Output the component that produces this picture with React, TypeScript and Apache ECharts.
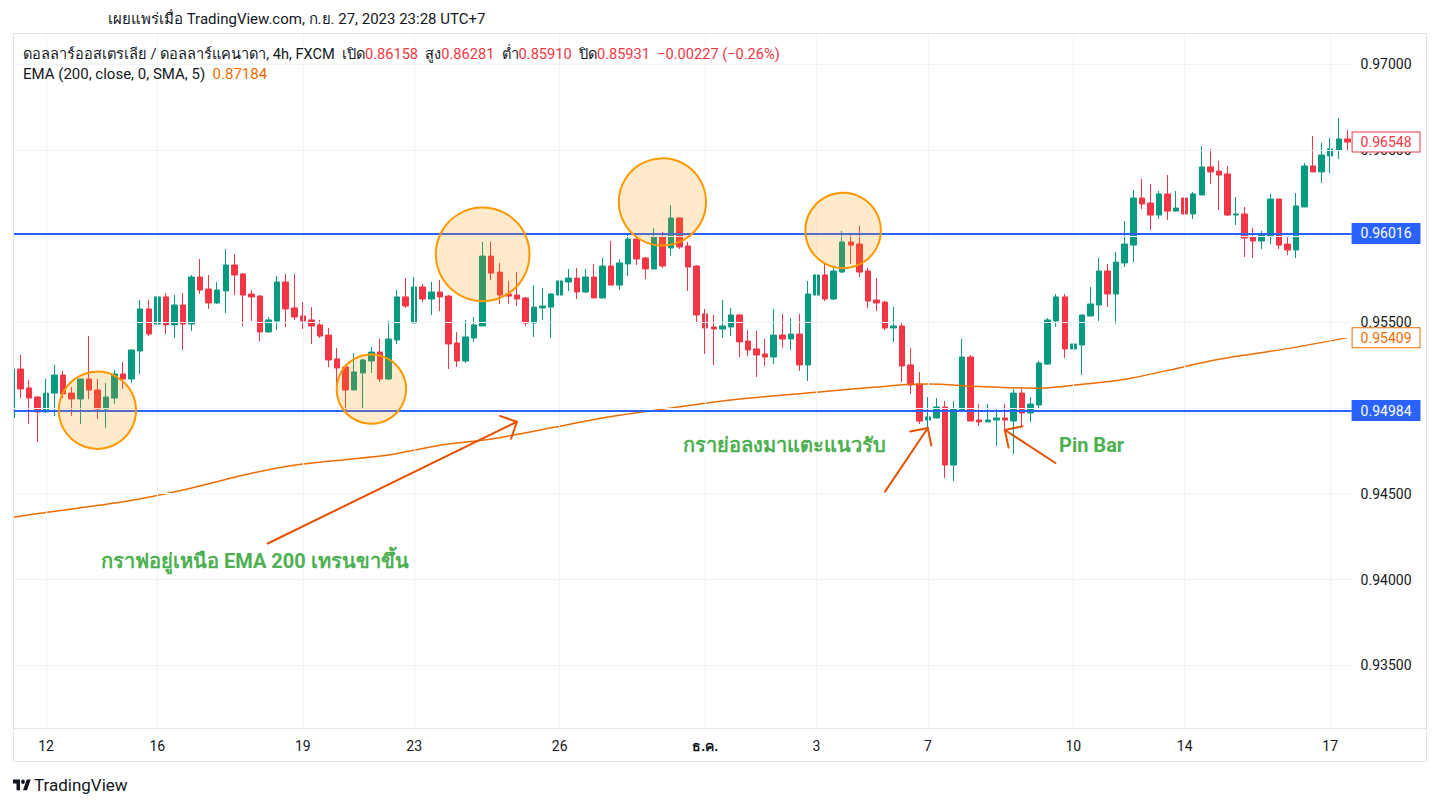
import React, { useEffect, useRef } from "react";
import * as echarts from "echarts";

// ---- tick labels ----
const tickIdx = [4, 17, 34, 47, 64, 81, 94, 107, 124, 137, 154];
const tickText = ["12", "16", "19", "23", "26", "ธ.ค.", "3", "7", "10", "14", "17"];
const priceTicks = [0.935, 0.94, 0.945, 0.95, 0.955, 0.96, 0.965, 0.97];
// tick labels that the level boxes cover completely
const hiddenTickLabels = [0.95, 0.96];

// ---- candles: [open, close, low, high] ----
const candles: number[][] = [
  [0.94941, 0.95226, 0.94923, 0.95244], [0.95226, 0.9511, 0.95057, 0.95308], [0.95116, 0.95057, 0.94906, 0.95162],
  [0.95063, 0.94976, 0.94801, 0.95069], [0.94976, 0.95086, 0.9497, 0.95168], [0.95086, 0.95191, 0.94953, 0.9525],
  [0.95191, 0.95081, 0.95057, 0.95215], [0.95086, 0.95052, 0.94953, 0.95121], [0.95052, 0.95168, 0.94906, 0.95168],
  [0.95168, 0.95104, 0.95052, 0.95418], [0.95104, 0.94993, 0.94935, 0.95168], [0.94993, 0.95063, 0.94883, 0.95145],
  [0.95057, 0.95197, 0.95022, 0.9522], [0.95197, 0.95168, 0.9511, 0.95267], [0.95168, 0.95337, 0.95145, 0.95337],
  [0.95331, 0.95576, 0.95197, 0.95628], [0.95576, 0.9543, 0.95418, 0.95628], [0.95488, 0.95646, 0.95384, 0.95715],
  [0.95646, 0.95483, 0.9543, 0.95669], [0.95483, 0.95599, 0.95407, 0.95657], [0.95599, 0.95488, 0.95337, 0.95669],
  [0.95488, 0.95762, 0.95448, 0.95774], [0.95762, 0.95686, 0.95663, 0.95867], [0.95692, 0.95611, 0.95576, 0.95774],
  [0.95611, 0.95686, 0.95605, 0.95733], [0.95681, 0.95832, 0.95552, 0.95925], [0.95832, 0.95774, 0.95657, 0.95896],
  [0.9578, 0.95657, 0.95477, 0.95785], [0.95663, 0.95646, 0.95506, 0.95686], [0.95651, 0.95442, 0.95389, 0.95657],
  [0.95442, 0.95512, 0.95442, 0.95529], [0.95506, 0.95733, 0.95453, 0.95768], [0.95733, 0.95576, 0.95471, 0.9578],
  [0.95582, 0.95529, 0.95512, 0.9578], [0.95535, 0.95506, 0.95459, 0.95616], [0.95512, 0.95477, 0.95372, 0.95587],
  [0.95483, 0.95418, 0.95407, 0.95512], [0.95424, 0.95279, 0.95238, 0.95465], [0.95285, 0.95232, 0.95133, 0.95349],
  [0.95238, 0.95104, 0.94987, 0.95255], [0.95104, 0.95209, 0.95104, 0.95319], [0.95203, 0.95279, 0.94999, 0.95285],
  [0.95273, 0.95325, 0.95203, 0.95354], [0.95325, 0.95168, 0.95151, 0.95401], [0.95168, 0.95401, 0.95162, 0.95506],
  [0.95395, 0.95646, 0.95372, 0.95686], [0.95646, 0.95593, 0.95582, 0.95756], [0.95494, 0.95704, 0.95494, 0.95762],
  [0.95704, 0.95634, 0.95616, 0.95721], [0.95634, 0.95675, 0.95541, 0.95733], [0.95675, 0.95646, 0.95564, 0.95745],
  [0.95651, 0.95372, 0.95226, 0.95657], [0.95378, 0.95273, 0.95238, 0.95442], [0.95273, 0.95413, 0.95261, 0.95512],
  [0.95407, 0.95483, 0.95384, 0.95529], [0.95477, 0.95884, 0.95477, 0.95966], [0.95884, 0.95785, 0.95745, 0.95966],
  [0.95791, 0.95657, 0.95605, 0.95844], [0.95663, 0.95651, 0.95605, 0.95739], [0.95657, 0.95634, 0.95593, 0.95791],
  [0.9564, 0.95494, 0.95477, 0.95646], [0.95494, 0.95587, 0.95413, 0.95715], [0.95582, 0.95593, 0.95512, 0.95698],
  [0.95587, 0.95663, 0.95407, 0.95669], [0.95657, 0.95739, 0.95651, 0.9582], [0.95733, 0.95756, 0.95681, 0.95809],
  [0.95756, 0.95675, 0.95634, 0.95815], [0.95675, 0.95762, 0.95669, 0.95809], [0.95762, 0.9564, 0.9564, 0.95838],
  [0.9564, 0.95826, 0.9564, 0.95873], [0.95826, 0.95715, 0.95715, 0.95972], [0.95715, 0.95844, 0.95686, 0.95867],
  [0.95838, 0.95983, 0.95768, 0.96007], [0.95983, 0.95867, 0.95832, 0.96001], [0.95873, 0.95809, 0.9575, 0.95879],
  [0.95809, 0.95995, 0.95809, 0.96047], [0.95995, 0.95826, 0.95815, 0.96024], [0.95931, 0.96106, 0.95884, 0.96181],
  [0.96106, 0.95937, 0.95925, 0.96112], [0.95943, 0.9582, 0.95681, 0.95966], [0.95826, 0.95541, 0.955, 0.95832],
  [0.95547, 0.95465, 0.95314, 0.95576], [0.95471, 0.95459, 0.9525, 0.95541], [0.95459, 0.95477, 0.95407, 0.95628],
  [0.95471, 0.95541, 0.95418, 0.95582], [0.95541, 0.95384, 0.95296, 0.95547], [0.95389, 0.95337, 0.95302, 0.95453],
  [0.95343, 0.95308, 0.9518, 0.95448], [0.95314, 0.95296, 0.95244, 0.95401], [0.95296, 0.95424, 0.95255, 0.95576],
  [0.95424, 0.95401, 0.95349, 0.95547], [0.95401, 0.9543, 0.95337, 0.95523], [0.9543, 0.9525, 0.95215, 0.95547],
  [0.9525, 0.95663, 0.95156, 0.95739], [0.95657, 0.95774, 0.95587, 0.95838], [0.95774, 0.95634, 0.95622, 0.95849],
  [0.95634, 0.95797, 0.95628, 0.9582], [0.95791, 0.95966, 0.95785, 0.9603], [0.95966, 0.95948, 0.95838, 0.96013],
  [0.95954, 0.95791, 0.95762, 0.96059], [0.95797, 0.95622, 0.95582, 0.95815], [0.95628, 0.95611, 0.95564, 0.95756],
  [0.95616, 0.95465, 0.95453, 0.95622], [0.95465, 0.95477, 0.95384, 0.95587], [0.95477, 0.95244, 0.95151, 0.955],
  [0.9525, 0.95133, 0.95081, 0.95349], [0.95139, 0.94923, 0.94906, 0.95209], [0.94929, 0.94947, 0.94883, 0.95063],
  [0.94941, 0.95005, 0.94939, 0.95057], [0.95005, 0.94667, 0.94591, 0.9504], [0.94667, 0.94993, 0.94574, 0.9504],
  [0.94987, 0.95296, 0.94976, 0.95401], [0.95296, 0.94923, 0.94923, 0.95308], [0.94929, 0.94918, 0.94894, 0.95022],
  [0.94918, 0.94929, 0.94918, 0.95022], [0.94929, 0.94941, 0.94778, 0.94999], [0.94941, 0.94929, 0.94871, 0.95022],
  [0.94923, 0.95086, 0.94731, 0.9511], [0.95086, 0.9497, 0.94888, 0.9511], [0.9497, 0.95022, 0.94918, 0.95063],
  [0.95017, 0.95261, 0.94993, 0.95273], [0.95255, 0.95512, 0.9525, 0.95523], [0.95506, 0.95646, 0.95471, 0.95663],
  [0.95646, 0.95343, 0.9529, 0.95663], [0.95343, 0.95372, 0.95238, 0.95453], [0.95366, 0.95541, 0.95191, 0.95541],
  [0.95535, 0.95605, 0.95535, 0.95704], [0.95599, 0.95797, 0.95506, 0.95873], [0.95797, 0.95663, 0.95587, 0.95838],
  [0.95663, 0.95849, 0.95488, 0.95908], [0.95844, 0.95954, 0.9582, 0.96088], [0.95948, 0.96222, 0.95849, 0.96269],
  [0.96222, 0.96187, 0.96158, 0.96333], [0.96193, 0.96123, 0.96036, 0.96304], [0.96123, 0.96246, 0.961, 0.96263],
  [0.96246, 0.96146, 0.96094, 0.96356], [0.96146, 0.96164, 0.96141, 0.96263], [0.96222, 0.96129, 0.9603, 0.96379],
  [0.96129, 0.96246, 0.961, 0.96257], [0.9624, 0.96403, 0.9624, 0.96525], [0.96403, 0.96374, 0.96304, 0.96508],
  [0.96379, 0.96356, 0.96152, 0.96438], [0.96362, 0.96123, 0.96117, 0.96409], [0.96123, 0.96129, 0.96065, 0.96228],
  [0.96129, 0.95989, 0.95879, 0.9617], [0.95995, 0.95972, 0.95873, 0.96047], [0.95972, 0.96007, 0.95925, 0.9603],
  [0.96001, 0.96216, 0.95954, 0.96246], [0.96216, 0.95948, 0.95925, 0.96216], [0.95954, 0.95919, 0.9589, 0.96001],
  [0.95919, 0.96176, 0.95873, 0.96251], [0.9617, 0.96409, 0.9617, 0.96426], [0.96409, 0.96374, 0.96374, 0.96583],
  [0.96374, 0.96473, 0.9631, 0.96543], [0.96467, 0.96508, 0.96368, 0.96572], [0.96502, 0.96566, 0.96449, 0.96688],
  [0.96566, 0.96548, 0.96502, 0.96618],
];

// ---- EMA 200 readings (bar index, value) ----
const emaIdx = [0, 4, 13, 20, 28, 34, 44, 50, 56, 62, 69, 75, 84, 94, 101, 105, 107, 113, 120, 125, 130, 137, 141, 149, 156];
const emaVal = [0.94361, 0.94391, 0.94453, 0.94522, 0.94619, 0.94673, 0.94725, 0.94782, 0.94819, 0.94874, 0.94941, 0.94985,
  0.95046, 0.95091, 0.95121, 0.95137, 0.95139, 0.95124, 0.95114, 0.95137, 0.95166, 0.9524, 0.95283, 0.95345, 0.95409];

// ---- horizontal levels and last values ----
const levelLines = [0.96016, 0.94984];
const lastPrice = 0.96548;
const lastEma = 0.95409;

// ---- drawings in chart coordinates: [centerIdx, centerPrice, edgeIdx, edgePrice] ----
const circles = [
  [10.0, 0.94986, 10.0, 0.95211],
  [42.0, 0.95109, 42.0, 0.95311],
  [55.0, 0.95894, 55.0, 0.96167],
  [76.0, 0.96199, 76.0, 0.96453],
  [97.1, 0.96033, 97.1, 0.96253],
];
// [fromIdx, fromPrice, toIdx, toPrice]
const arrows = [
  [29.9, 0.9421, 59.0, 0.94919],
  [102.0, 0.94512, 107.0, 0.94883],
  [121.9, 0.94679, 116.0, 0.94871],
];

const Y_MIN = 0.931354;
const Y_MAX = 0.971832;

const FONT = "Roboto, 'Noto Sans', sans-serif";
const UP = "#089981";
const DOWN = "#f23645";
const TEXT = "#131722";
const BORDER = "#e0e3eb";
const GRID = "#f0f3fa";
const BLUE = "#2962ff";
const EMA_C = "#ef6c00";
const ARROW_C = "#e65100";
const GREEN_T = "#4caf50";

let logoRegistered = false;

export default function App() {
  const ref = useRef<HTMLDivElement>(null);
  useEffect(() => {
    if (!ref.current) return;
    if (!logoRegistered) {
      echarts.graphic.registerShape(
        "tvlogo",
        (echarts.graphic as any).extendPath("M0 4h14v18H7V11H0z M20 22l7.5-18h8L28 22z M20 11.5a3.75 3.75 0 1 0 0-7.5a3.75 3.75 0 1 0 0 7.5z", {})
      );
      logoRegistered = true;
    }
    const chart = echarts.init(ref.current, null, { renderer: "svg" });
    const n = candles.length;
    const cats = candles.map((_, i) => String(i));

    const priceLabel = {
      show: true,
      position: "end",
      distance: 9,
      color: TEXT,
      fontSize: 14,
      fontFamily: FONT,
      formatter: (p: any) => Number(p.value).toFixed(5),
    };

    const boxLabel = (bg: string, fg: string, border: string) => ({
      show: true,
      position: "end",
      distance: 1,
      color: fg,
      backgroundColor: bg,
      borderColor: border,
      borderWidth: 1,
      lineHeight: 14,
      padding: [3, 8, 2, 8],
      fontSize: 14,
      fontFamily: FONT,
      formatter: (p: any) => Number(p.value).toFixed(5),
    });

    const option: any = {
      animation: false,
      backgroundColor: "#ffffff",
      grid: { left: 7.5, right: 87.4, top: 33, bottom: 79, containLabel: false },
      xAxis: [
        {
          type: "category",
          data: cats,
          boundaryGap: true,
          axisLine: { show: false },
          axisTick: { show: false },
          splitLine: { show: false },
          axisLabel: {
            interval: (i: number) => tickIdx.includes(i),
            formatter: (_v: string, i: number) => {
              const k = tickIdx.indexOf(i);
              if (k < 0) return "";
              const t = tickText[k];
              return t === "ธ.ค." ? "{b|" + t + "}" : t;
            },
            rich: { b: { fontWeight: "bold", fontSize: 14, color: TEXT, fontFamily: FONT } },
            margin: 11,
            fontSize: 14,
            color: TEXT,
            fontFamily: FONT,
          },
        },
        { type: "value", min: -0.5, max: n - 0.5, show: false },
      ],
      yAxis: { type: "value", min: Y_MIN, max: Y_MAX, show: false, scale: true },
      series: [
        {
          name: "grid",
          type: "line",
          xAxisIndex: 1,
          data: [[0, candles[0][1]]],
          showSymbol: false,
          lineStyle: { opacity: 0 },
          silent: true,
          z: 0,
          markLine: {
            silent: true,
            symbol: "none",
            precision: 5,
            animation: false,
            lineStyle: { color: GRID, width: 1, type: "solid" },
            label: priceLabel,
            emphasis: { disabled: true },
            data: [
              ...priceTicks.map((v) =>
                hiddenTickLabels.includes(v) ? { yAxis: v, label: { show: false } } : { yAxis: v }
              ),
              ...tickIdx.map((i) => ({ xAxis: i, label: { show: false } })),
            ],
          },
        },
        {
          name: "AUDCAD",
          type: "candlestick",
          xAxisIndex: 0,
          data: candles,
          barWidth: 6,
          z: 2,
          itemStyle: { color: UP, color0: DOWN, borderColor: UP, borderColor0: DOWN, borderWidth: 1 },
        },
        {
          name: "EMA 200",
          type: "line",
          xAxisIndex: 1,
          data: emaIdx.map((i, k) => [i, emaVal[k]]),
          smooth: 0.3,
          showSymbol: false,
          lineStyle: { color: EMA_C, width: 1.5 },
          z: 3,
        },
        {
          name: "levels",
          type: "line",
          xAxisIndex: 1,
          data: [[0, levelLines[0]]],
          showSymbol: false,
          lineStyle: { opacity: 0 },
          silent: true,
          z: 4,
          markLine: {
            silent: true,
            symbol: "none",
            precision: 5,
            animation: false,
            emphasis: { disabled: true },
            data: [
              ...levelLines.map((v) => ({
                yAxis: v,
                lineStyle: { color: BLUE, width: 2, type: "solid" },
                label: boxLabel(BLUE, "#ffffff", BLUE),
              })),
              {
                yAxis: lastPrice,
                lineStyle: { color: "rgba(0,0,0,0)", width: 1 },
                label: boxLabel("#ffffff", DOWN, DOWN),
              },
              {
                yAxis: lastEma,
                lineStyle: { color: "rgba(0,0,0,0)", width: 1 },
                label: boxLabel("#ffffff", EMA_C, EMA_C),
              },
            ],
          },
        },
        {
          name: "circles",
          type: "custom",
          xAxisIndex: 1,
          data: circles,
          z: 5,
          silent: true,
          renderItem: (_p: any, api: any) => {
            const c = api.coord([api.value(0), api.value(1)]);
            const e = api.coord([api.value(2), api.value(3)]);
            const r = Math.hypot(e[0] - c[0], e[1] - c[1]);
            return {
              type: "circle",
              shape: { cx: c[0], cy: c[1], r },
              style: { fill: "rgba(255,152,0,0.2)", stroke: "#ff9800", lineWidth: 2 },
            };
          },
        },
        {
          name: "arrows",
          type: "custom",
          xAxisIndex: 1,
          data: arrows,
          z: 6,
          silent: true,
          renderItem: (_p: any, api: any) => {
            const a = api.coord([api.value(0), api.value(1)]);
            const b = api.coord([api.value(2), api.value(3)]);
            const ang = Math.atan2(a[1] - b[1], a[0] - b[0]);
            const L = 18;
            const d = Math.PI / 4;
            const b1 = [b[0] + L * Math.cos(ang + d), b[1] + L * Math.sin(ang + d)];
            const b2 = [b[0] + L * Math.cos(ang - d), b[1] + L * Math.sin(ang - d)];
            const st = { stroke: ARROW_C, lineWidth: 2, fill: "none", lineCap: "round", lineJoin: "round" };
            return {
              type: "group",
              children: [
                { type: "line", shape: { x1: a[0], y1: a[1], x2: b[0], y2: b[1] }, style: st },
                { type: "polyline", shape: { points: [b1, b, b2] }, style: st },
              ],
            };
          },
        },
      ],
      graphic: [
        { type: "rect", z: 100, shape: { x: 0, y: 33, width: 13, height: 695 }, style: { fill: "#ffffff" } },
        { type: "line", z: 101, shape: { x1: 13, y1: 33.5, x2: 1427, y2: 33.5 }, style: { stroke: BORDER, lineWidth: 1 } },
        { type: "line", z: 101, shape: { x1: 13.5, y1: 33, x2: 13.5, y2: 762 }, style: { stroke: BORDER, lineWidth: 1 } },
        { type: "line", z: 101, shape: { x1: 1426.5, y1: 33, x2: 1426.5, y2: 762 }, style: { stroke: BORDER, lineWidth: 1 } },
        { type: "line", z: 101, shape: { x1: 13, y1: 761.5, x2: 1427, y2: 761.5 }, style: { stroke: BORDER, lineWidth: 1 } },
        { type: "line", z: 101, shape: { x1: 13, y1: 728.5, x2: 1427, y2: 728.5 }, style: { stroke: BORDER, lineWidth: 1 } },
        {
          type: "text", z: 102, x: 108, y: 19,
          style: { text: "เผยแพร่เมื่อ TradingView.com, ก.ย. 27, 2023 23:28 UTC+7", fill: TEXT, font: "15px " + FONT, verticalAlign: "middle" },
        },
        {
          type: "text", z: 102, x: 23, y: 54,
          style: {
            text: "ดอลลาร์ออสเตรเลีย / ดอลลาร์แคนาดา, 4h, FXCM  เปิด{r|0.86158}  สูง{r|0.86281}  ต่ำ{r|0.85910}  ปิด{r|0.85931}  {r|−0.00227 (−0.26%)}",
            fill: TEXT, font: "14.6px " + FONT, verticalAlign: "middle",
            rich: { r: { fill: DOWN, font: "14.6px " + FONT } },
          },
        },
        {
          type: "text", z: 102, x: 23, y: 74,
          style: {
            text: "EMA (200, close, 0, SMA, 5)  {o|0.87184}",
            fill: TEXT, font: "15px " + FONT, verticalAlign: "middle",
            rich: { o: { fill: EMA_C, font: "15px " + FONT } },
          },
        },
        {
          type: "text", z: 102, x: 101, y: 561,
          style: { text: "กราฟอยู่เหนือ EMA 200 เทรนขาขึ้น", fill: GREEN_T, font: "bold 20px " + FONT, verticalAlign: "middle" },
        },
        {
          type: "text", z: 102, x: 683, y: 445,
          style: { text: "กราย่อลงมาแตะแนวรับ", fill: GREEN_T, font: "bold 20px " + FONT, verticalAlign: "middle" },
        },
        {
          type: "text", z: 102, x: 1059, y: 445,
          style: { text: "Pin Bar", fill: GREEN_T, font: "bold 20px " + FONT, verticalAlign: "middle" },
        },
        { type: "tvlogo", z: 102, x: 13, y: 777, scaleX: 0.5, scaleY: 0.6, style: { fill: TEXT } },
        {
          type: "text", z: 102, x: 34, y: 785,
          style: { text: "TradingView", fill: TEXT, font: "17px " + FONT, verticalAlign: "middle" },
        },
      ],
    };
    chart.setOption(option);
    return () => chart.dispose();
  }, []);
  return <div ref={ref} style={{ position: "absolute", left: 0, top: 0, width: 1439, height: 807, background: "#fff" }} />;
}
